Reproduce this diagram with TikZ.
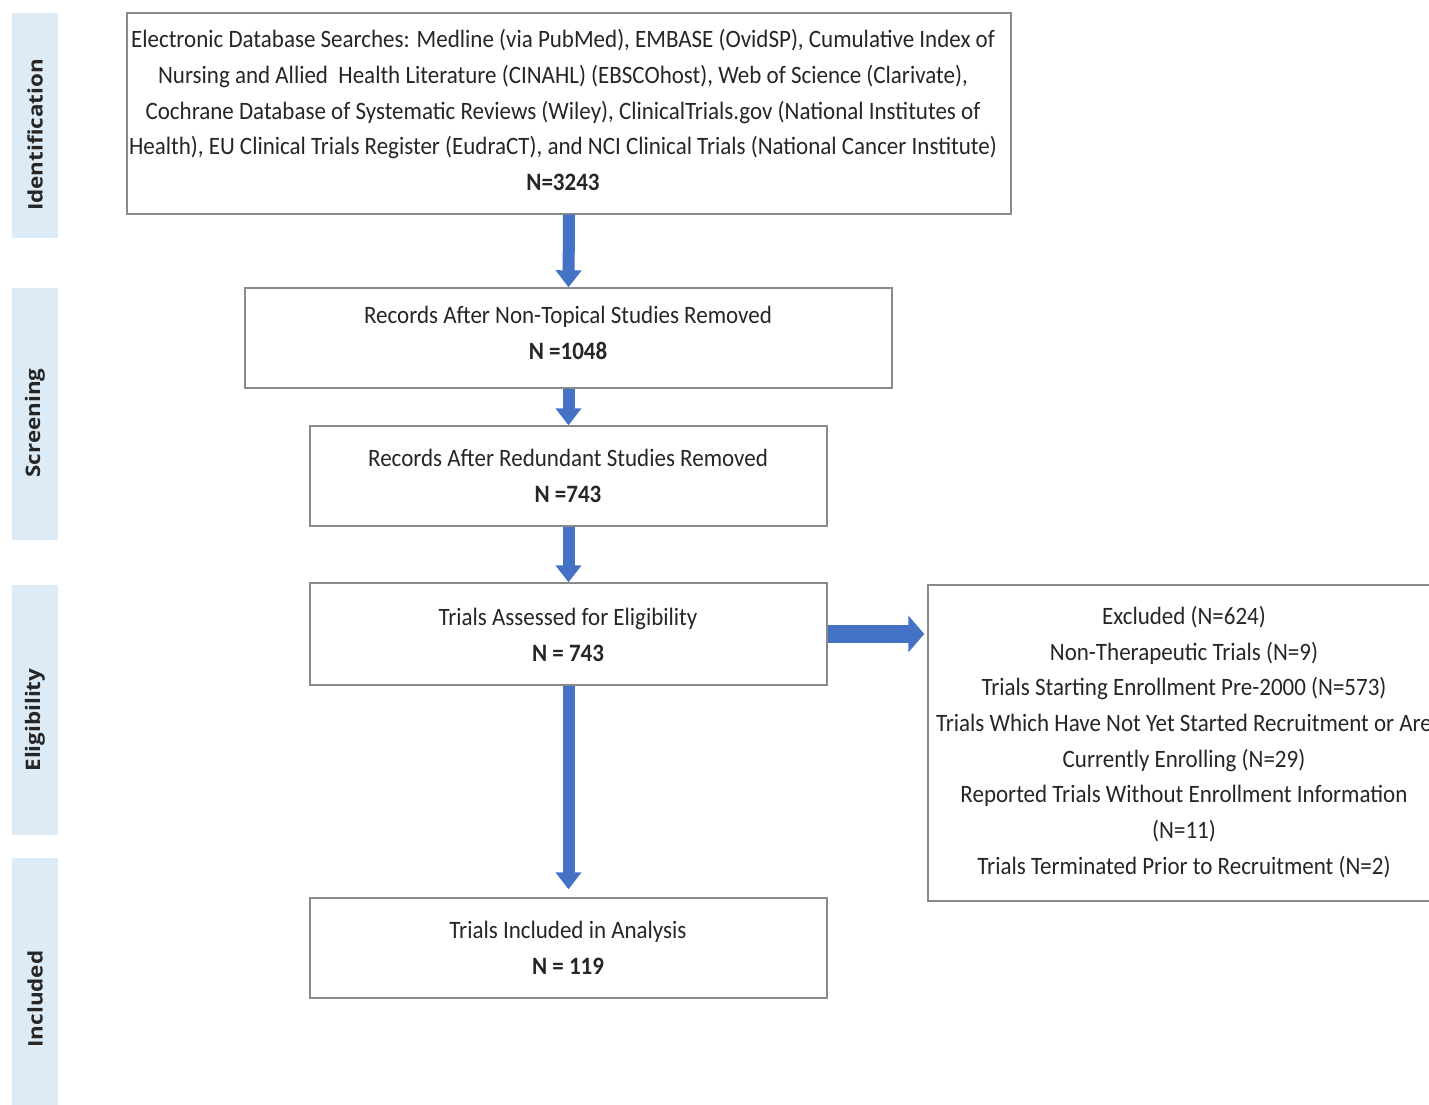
\documentclass[tikz,border=0pt]{standalone}
\usepackage{fontspec}
\setmainfont{Carlito}[FakeStretch=0.92]
\newfontfamily\sidefont{Open Sans}[FakeStretch=1.12]
\usetikzlibrary{arrows.meta}
\definecolor{bandblue}{HTML}{DDEBF7}
\definecolor{arrowblue}{HTML}{4472C4}
\definecolor{boxgray}{HTML}{8A8A8A}
\definecolor{txtgray}{HTML}{262626}
\tikzset{
  band/.style={fill=bandblue, draw=none, minimum width=46pt, inner sep=0pt},
  bandlabel/.style={font=\sidefont\bfseries\fontsize{20}{20}\selectfont, rotate=90, text=txtgray},
  box/.style={draw=boxgray, line width=1.4pt, inner sep=0pt, fill=white},
  txt/.style={align=center, text=txtgray, inner sep=0pt, font=\fontsize{25}{35.7}\selectfont},
  downarrow/.style={draw=arrowblue, line width=12pt, -{Triangle[width=25pt,length=17pt]}, arrowblue},
  rightarrow/.style={draw=arrowblue, line width=18pt, -{Triangle[width=36pt,length=16pt]}, arrowblue},
}
\begin{document}
\begin{tikzpicture}[x=1pt,y=-1pt]
\useasboundingbox (0,0) rectangle (1429,1104);
\clip (0,0) rectangle (1429,1104);
\fill[white] (0,0) rectangle (1429,1104);

% side bands
\node[band, minimum height=225pt] (b1) at (35,125.5) {};
\node[band, minimum height=252pt] (b2) at (35,413.5) {};
\node[band, minimum height=250pt] (b3) at (35,710) {};
\node[band, minimum height=250pt] (b4) at (35,983) {};
\node[bandlabel] (l1) at (35,135) {Identification};
\node[bandlabel] (l2) at (35,423) {Screening};
\node[bandlabel] (l3) at (35,720) {Eligibility};
\node[bandlabel] (l4) at (35,999) {Included};

% boxes
\node[box, minimum width=884pt, minimum height=201pt] (n1) at (569,113.5) {};
\node[box, minimum width=647pt, minimum height=100pt] (n2) at (568.5,338) {};
\node[box, minimum width=517pt, minimum height=100pt] (n3) at (568.5,476) {};
\node[box, minimum width=517pt, minimum height=102pt] (n4) at (568.5,634) {};
\node[box, minimum width=517pt, minimum height=100pt] (n5) at (568.5,948) {};
\node[box, minimum width=512pt, minimum height=316pt] (ex) at (1184,743) {};

% texts
\node[txt] (t1) at (563,110) {Electronic Database Searches: Medline (via PubMed), EMBASE (OvidSP), Cumulative Index of\\
Nursing and Allied\ \ Health Literature (CINAHL) (EBSCOhost), Web of Science (Clarivate),\\
Cochrane Database of Systematic Reviews (Wiley), ClinicalTrials.gov (National Institutes of\\
Health), EU Clinical Trials Register (EudraCT), and NCI Clinical Trials (National Cancer Institute)\\
\textbf{N=3243}};
\node[txt] (t2) at (568,333) {Records After Non-Topical Studies Removed\\ \textbf{N =1048}};
\node[txt] (t3) at (568,476) {Records After Redundant Studies Removed\\ \textbf{N =743}};
\node[txt] (t4) at (568,635) {Trials Assessed for Eligibility\\ \textbf{N = 743}};
\node[txt] (t5) at (568,948) {Trials Included in Analysis\\ \textbf{N = 119}};
\node[txt] (t6) at (1184,742) {Excluded (N=624)\\
Non-Therapeutic Trials (N=9)\\
Trials Starting Enrollment Pre-2000 (N=573)\\
Trials Which Have Not Yet Started Recruitment or Are\\
Currently Enrolling (N=29)\\
Reported Trials Without Enrollment Information\\
(N=11)\\
Trials Terminated Prior to Recruitment (N=2)};

% arrows
\draw[downarrow] (n1.south) -- (n2.north);
\draw[downarrow] (n2.south) -- (n3.north);
\draw[downarrow] (n3.south) -- (n4.north);
\draw[downarrow, shorten >=8pt] (n4.south) -- (n5.north);
\draw[rightarrow, shorten >=3pt] (n4.east) -- (n4.east -| ex.west);
\end{tikzpicture}
\end{document}
